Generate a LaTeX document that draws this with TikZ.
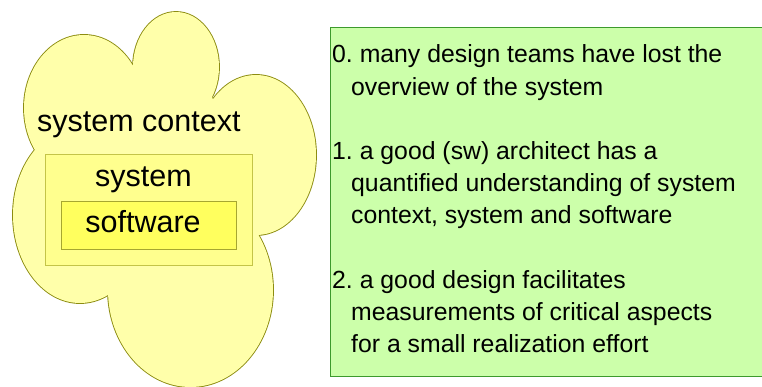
\documentclass[tikz,border=0pt]{standalone}
\usepackage{fontspec}
\setmainfont{Liberation Sans}
\frenchspacing
\definecolor{cloudfill}{HTML}{FFFFAA}
\definecolor{cloudline}{HTML}{8C8C10}
\definecolor{sysfill}{HTML}{FFFF8E}
\definecolor{sysline}{HTML}{C4C448}
\definecolor{swfill}{HTML}{FFFF5E}
\definecolor{swline}{HTML}{A6A630}
\definecolor{notefill}{HTML}{CCFFAA}
\definecolor{noteline}{HTML}{3C9A2C}
\begin{document}
\begin{tikzpicture}[x=1pt,y=-1pt,
  bump/.style={draw=cloudline,line width=1.8pt},
  bumpfill/.style={fill=cloudfill},
  big/.style={font=\fontsize{30.5}{36}\selectfont,inner sep=0pt,anchor=base west},
  txt/.style={font=\fontsize{24.8}{30}\selectfont,inner sep=0pt,anchor=base west},
  cbig/.style={font=\fontsize{30.5}{36}\selectfont,inner sep=0pt,anchor=base}]
\useasboundingbox (0,0) rectangle (762,387);
% cloud: outlines first, then fill over the inner halves
\draw[bump] (84,108) ellipse [x radius=60pt,y radius=73pt];
\draw[bump] (176,67) ellipse [x radius=43pt,y radius=55pt];
\draw[bump] (256,155) ellipse [x radius=60pt,y radius=80pt];
\draw[bump] (190.5,290) ellipse [x radius=82.5pt,y radius=97pt];
\draw[bump] (80,215) ellipse [x radius=67pt,y radius=88pt];
\fill[bumpfill] (84,108) ellipse [x radius=60pt,y radius=73pt];
\fill[bumpfill] (176,67) ellipse [x radius=43pt,y radius=55pt];
\fill[bumpfill] (256,155) ellipse [x radius=60pt,y radius=80pt];
\fill[bumpfill] (190.5,290) ellipse [x radius=82.5pt,y radius=97pt];
\fill[bumpfill] (80,215) ellipse [x radius=67pt,y radius=88pt];
\fill[bumpfill] (35,154) -- (133,65) -- (212,97) -- (262,233) -- (108,293) -- cycle;
% boxes
\draw[sysline,fill=sysfill,line width=0.8pt] (45,154) rectangle (252,265);
\draw[swline,fill=swfill,line width=0.8pt] (61,201) rectangle (236,249);
\node[big] (ctx) at (37,132) {system context};
\node[cbig] (sys) at (143.5,187) {system};
\node[cbig] (sw) at (143,233) {software};
% note box
\draw[noteline,fill=notefill,line width=0.8pt] (330,27) rectangle (770,376);
\node[txt] (l1) at (332,63) {0. many design teams have lost the};
\node[txt] (l2) at (351,96) {overview of the system};
\node[txt] (l3) at (332,160) {1. a good (sw) architect has a};
\node[txt] (l4) at (351,192) {quantified understanding of system};
\node[txt] (l5) at (351,224) {context, system and software};
\node[txt] (l6) at (332,288) {2. a good design facilitates};
\node[txt] (l7) at (351,320) {measurements of critical aspects};
\node[txt] (l8) at (351,352) {for a small realization effort};
\end{tikzpicture}
\end{document}
